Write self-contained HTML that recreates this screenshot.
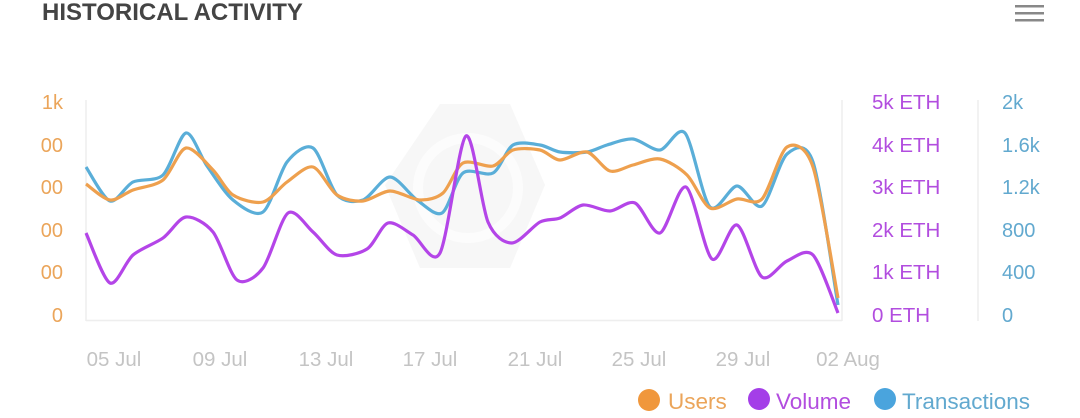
<!DOCTYPE html>
<html><head><meta charset="utf-8"><style>
html,body{margin:0;padding:0;background:#fff;width:1080px;height:418px;overflow:hidden}
svg{display:block;font-family:"Liberation Sans",sans-serif}
</style></head><body>
<svg id="s" width="1080" height="418" viewBox="0 0 1080 418">
<text x="42" y="20" font-size="24" font-weight="bold" fill="#444">HISTORICAL ACTIVITY</text>
<g fill="#888"><rect x="1015" y="5" width="29" height="2.5"/><rect x="1015" y="12" width="29" height="2.5"/><rect x="1015" y="19" width="29" height="2.5"/></g>
<polygon points="440,104 510,104 545,185 510,268 420,268 385,185" fill="#f7f7f7"/>
<circle cx="468" cy="188" r="50" fill="none" stroke="#fcfcfc" stroke-width="10"/>
<line x1="86" y1="100" x2="86" y2="321" stroke="#eee" stroke-width="1.5"/>
<line x1="842" y1="100" x2="842" y2="321" stroke="#eee" stroke-width="1.5"/>
<line x1="978" y1="100" x2="978" y2="321" stroke="#eee" stroke-width="1.5"/>
<line x1="86" y1="320.5" x2="842" y2="320.5" stroke="#eee" stroke-width="1.5"/>
<g font-size="20" fill="#eba55a" text-anchor="end">
<text x="63" y="109">1k</text><text x="63" y="152">00</text><text x="63" y="194">00</text><text x="63" y="237">00</text><text x="63" y="279">00</text><text x="63" y="322">0</text></g>
<g font-size="20.5" fill="#b24ddf">
<text x="872" y="109">5k ETH</text><text x="872" y="152">4k ETH</text><text x="872" y="194">3k ETH</text><text x="872" y="237">2k ETH</text><text x="872" y="279">1k ETH</text><text x="872" y="322">0 ETH</text></g>
<g font-size="20" fill="#62a9cf">
<text x="1002" y="109">2k</text><text x="1002" y="152">1.6k</text><text x="1002" y="194">1.2k</text><text x="1002" y="237">800</text><text x="1002" y="279">400</text><text x="1002" y="322">0</text></g>
<g font-size="20.5" fill="#c4c4c4" text-anchor="middle">
<text x="114" y="366">05 Jul</text><text x="220" y="366">09 Jul</text><text x="326" y="366">13 Jul</text><text x="430" y="366">17 Jul</text><text x="535" y="366">21 Jul</text><text x="639" y="366">25 Jul</text><text x="743" y="366">29 Jul</text><text x="848" y="366">02 Aug</text></g>
<g font-size="22.5">
<circle cx="649" cy="400" r="11" fill="#f0973c"/><text x="668" y="409" fill="#eba55a">Users</text>
<circle cx="759" cy="399" r="11" fill="#a43ee8"/><text x="776" y="409" fill="#b24ddf">Volume</text>
<circle cx="885" cy="399" r="11" fill="#4aa4dd"/><text x="902" y="409" fill="#62a9cf">Transactions</text>
</g>
<path id="b" fill="none" stroke="#5aaed8" stroke-width="3.2" stroke-linejoin="round"/>
<path id="o" fill="none" stroke="#eea04e" stroke-width="3.2" stroke-linejoin="round"/>
<path id="p" fill="none" stroke="#b445e8" stroke-width="3.2" stroke-linejoin="round"/>
</svg>
<script>
function cr(p){let d="M"+p[0][0]+","+p[0][1];for(let i=0;i<p.length-1;i++){const a=p[Math.max(0,i-1)],b=p[i],c=p[i+1],e=p[Math.min(p.length-1,i+2)];const t=7;d+=" C"+(b[0]+(c[0]-a[0])/t)+","+(b[1]+(c[1]-a[1])/t)+" "+(c[0]-(e[0]-b[0])/t)+","+(c[1]-(e[1]-b[1])/t)+" "+c[0]+","+c[1];}return d;}
const B=[[86,167],[110,201],[133,182],[163,175],[186,133],[207,166],[233,200],[263,212],[287,162],[313,148],[337,195],[363,200],[390,177],[417,200],[442,213],[463,173],[493,173],[513,145],[540,145],[560,152],[587,152],[607,145],[633,139],[660,150],[685,133],[710,207],[737,186],[762,206],[787,154],[813,162],[838,305]];
const O=[[86,184],[110,200],[133,190],[163,180],[186,148],[213,170],[233,195],[263,202],[287,182],[313,167],[337,195],[363,201],[390,191],[420,200],[443,193],[463,163],[493,166],[513,150],[540,150],[560,160],[587,152],[610,171],[633,165],[660,159],[687,175],[710,208],[737,199],[762,199],[787,147],[813,167],[838,298]];
const P=[[86,233],[110,283],[133,255],[163,238],[186,217],[213,232],[237,280],[263,268],[288,213],[313,232],[337,255],[367,249],[388,223],[413,235],[440,253],[466,136],[488,222],[512,243],[540,222],[560,218],[583,205],[610,211],[635,203],[660,233],[686,187],[712,259],[737,225],[762,277],[787,261],[813,255],[838,313]];
document.getElementById("b").setAttribute("d",cr(B));
document.getElementById("o").setAttribute("d",cr(O));
document.getElementById("p").setAttribute("d",cr(P));
</script>
</body></html>
